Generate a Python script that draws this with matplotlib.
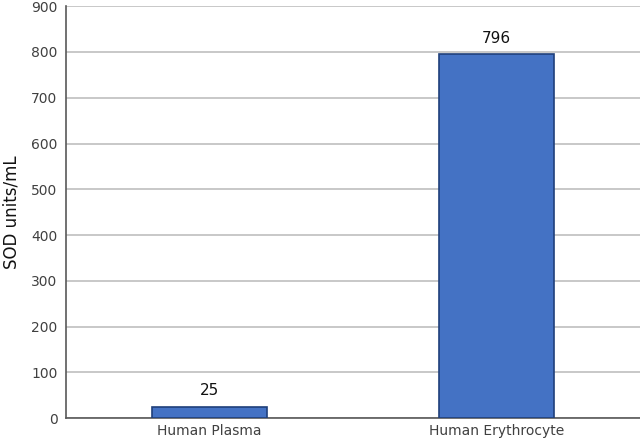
import matplotlib
matplotlib.use('Agg')
import matplotlib.pyplot as plt

categories = ['Human Plasma', 'Human Erythrocyte']
values = [25, 796]
yticks = [0, 100, 200, 300, 400, 500, 600, 700, 800, 900]

fig = plt.figure(figsize=(6.4, 4.42), dpi=100)
ax = fig.add_axes([0.103, 0.054, 0.897, 0.932])

x = range(len(categories))
ax.bar(x, values, width=0.4, color='#4472C4', edgecolor='#1F3F7A', linewidth=1.2, zorder=3)
for xi, v in zip(x, values):
	ax.text(xi, v + 18, str(v), ha='center', va='bottom', fontsize=11, color='#111111')

ax.set_xlim(-0.5, 1.5)
ax.set_ylim(0, 900)
ax.set_yticks(yticks)
ax.set_xticks(list(x))
ax.set_xticklabels(categories)
ax.yaxis.grid(True, color='#BFBFBF', linewidth=1.2, zorder=0)
ax.tick_params(axis='both', length=0, labelsize=10, labelcolor='#404040', pad=6)
ax.tick_params(axis='x', pad=4)

for side in ['top', 'right']:
	ax.spines[side].set_visible(False)
for side in ['left', 'bottom']:
	ax.spines[side].set_color('#595959')
	ax.spines[side].set_linewidth(1.2)

ax.set_ylabel('SOD units/mL', fontsize=12, color='#111111', labelpad=8)

plt.savefig('out.png', dpi=100)
